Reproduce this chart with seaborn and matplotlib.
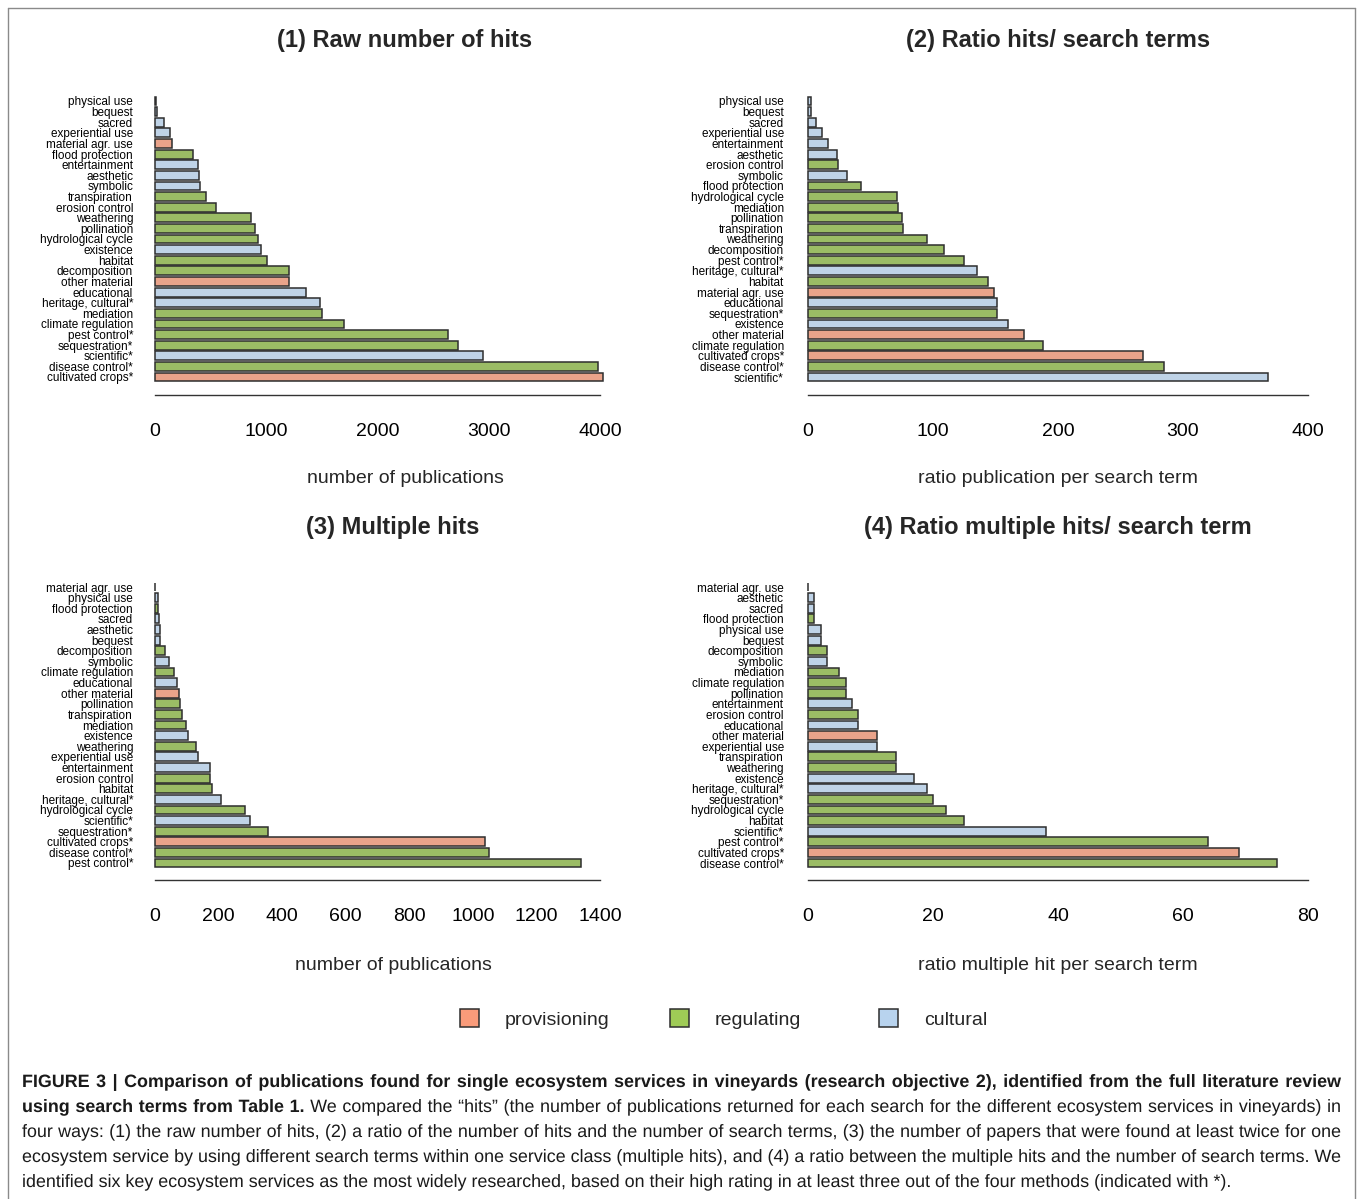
import matplotlib
matplotlib.use("Agg")
import matplotlib.pyplot as plt
import matplotlib.font_manager as fm
from matplotlib.font_manager import FontProperties
from matplotlib.patches import Patch, PathPatch
from matplotlib.lines import Line2D
from matplotlib.path import Path
from matplotlib.textpath import TextPath, text_to_path
from matplotlib.transforms import IdentityTransform
import seaborn as sns
import pandas as pd

# --- data ---
p1_names = ["physical use", "bequest", "sacred", "experiential use", "material agr. use",
            "flood protection", "entertainment", "aesthetic", "symbolic", "transpiration",
            "erosion control", "weathering", "pollination", "hydrological cycle", "existence",
            "habitat", "decomposition", "other material", "educational", "heritage, cultural*",
            "mediation", "climate regulation", "pest control*", "sequestration*", "scientific*",
            "disease control*", "cultivated crops*"]
p1_vals = [10, 15, 78, 131, 149, 338, 391, 394, 405, 455, 544, 860, 899, 924, 956, 1006,
           1205, 1208, 1357, 1485, 1503, 1695, 2632, 2720, 2947, 3985, 4023]

p2_names = ["physical use", "bequest", "sacred", "experiential use", "entertainment", "aesthetic",
            "erosion control", "symbolic", "flood protection", "hydrological cycle", "mediation",
            "pollination", "transpiration", "weathering", "decomposition", "pest control*",
            "heritage, cultural*", "habitat", "material agr. use", "educational", "sequestration*",
            "existence", "other material", "climate regulation", "cultivated crops*",
            "disease control*", "scientific*"]
p2_vals = [2, 2, 6, 11, 16, 23, 24, 31, 42, 71, 72, 75, 76, 95, 109, 125, 135, 144, 149, 151,
           151, 160, 173, 188, 268, 285, 368]

p3_names = ["material agr. use", "physical use", "flood protection", "sacred", "aesthetic",
            "bequest", "decomposition", "symbolic", "climate regulation", "educational",
            "other material", "pollination", "transpiration", "mediation", "existence",
            "weathering", "experiential use", "entertainment", "erosion control", "habitat",
            "heritage, cultural*", "hydrological cycle", "scientific*", "sequestration*",
            "cultivated crops*", "disease control*", "pest control*"]
p3_vals = [1, 9, 10, 12, 15, 16, 32, 44, 60, 69, 77, 79, 85, 96, 105, 130, 135, 173, 173, 178,
           207, 282, 300, 354, 1037, 1050, 1340]

p4_names = ["material agr. use", "aesthetic", "sacred", "flood protection", "physical use",
            "bequest", "decomposition", "symbolic", "mediation", "climate regulation",
            "pollination", "entertainment", "erosion control", "educational", "other material",
            "experiential use", "transpiration", "weathering", "existence", "heritage, cultural*",
            "sequestration*", "hydrological cycle", "habitat", "scientific*", "pest control*",
            "cultivated crops*", "disease control*"]
p4_vals = [0, 1, 1, 1, 2, 2, 3, 3, 5, 6, 6, 7, 8, 8, 11, 11, 14, 14, 17, 19, 20, 22, 25, 38,
           64, 69, 75]

provisioning = ["cultivated crops", "material agr. use", "other material"]
cultural = ["physical use", "bequest", "sacred", "experiential use", "entertainment",
            "aesthetic", "symbolic", "existence", "educational", "heritage, cultural", "scientific"]

groups = ["provisioning", "regulating", "cultural"]
colors = {"provisioning": "#F99B7A", "regulating": "#9FCB56", "cultural": "#B8D3EE"}
edge = "#2e2e2e"

titles = ["(1) Raw number of hits", "(2) Ratio hits/ search terms",
          "(3) Multiple hits", "(4) Ratio multiple hits/ search term"]
xlabels = ["number of publications", "ratio publication per search term",
           "number of publications", "ratio multiple hit per search term"]
ticks = [[0, 1000, 2000, 3000, 4000], [0, 100, 200, 300, 400],
         [0, 200, 400, 600, 800, 1000, 1200, 1400], [0, 20, 40, 60, 80]]


def group_of(name):
    base = name.rstrip("*")
    if base in provisioning:
        return "provisioning"
    if base in cultural:
        return "cultural"
    return "regulating"


sns.set_style("white")
plt.rcParams["font.family"] = ["Liberation Sans", "DejaVu Sans"]

W, H = 1358, 1199
fig = plt.figure(figsize=(W / 100, H / 100), dpi=100)

# pixel layout: zero x, last tick x, first bar y, last bar y, axis line y
layout = [(155, 600, 101, 377, 395), (808, 1308, 101, 377, 395),
          (155, 600, 587, 863, 880), (808, 1308, 587, 863, 880)]
title_pos = [(405, 41), (1058, 41), (393, 527), (1058, 527)]
xlabel_pos = [(405, 479), (1058, 479), (393, 965), (1058, 965)]

panels = [(p1_names, p1_vals), (p2_names, p2_vals), (p3_names, p3_vals), (p4_names, p4_vals)]

for i, (names, vals) in enumerate(panels):
    x0, x1, ytop, ybot, yax = layout[i]
    tmax = ticks[i][-1]
    s = (x1 - x0) / tmax
    n = len(names)
    pitch = (ybot - ytop) / (n - 1)
    ext_top = 1.5
    ext_bot = (yax - ybot) / pitch
    xmin, xmax = -0.04 * tmax, 1.08 * tmax
    left = x0 + xmin * s
    width = (xmax - xmin) * s
    top = ytop - ext_top * pitch
    height = yax - top
    ax = fig.add_axes([left / W, 1 - (top + height) / H, width / W, height / H])

    df = pd.DataFrame({"service": names, "value": vals,
                       "group": [group_of(nm) for nm in names]})
    sns.barplot(data=df, x="value", y="service", hue="group", order=names,
                hue_order=groups, palette=colors, dodge=False, width=1 / 1.2,
                edgecolor=edge, linewidth=1.1, legend=False, orient="h", ax=ax)

    ax.set_xlim(xmin, xmax)
    ax.set_ylim(n - 1 + ext_bot, -ext_top)
    ax.set_xlabel("")
    ax.set_ylabel("")
    for sp in ["left", "top", "right"]:
        ax.spines[sp].set_visible(False)
    ax.spines["bottom"].set_bounds(0, tmax)
    ax.spines["bottom"].set_color("#333333")
    ax.spines["bottom"].set_linewidth(1.0)
    ax.set_xticks(ticks[i])
    ax.set_xticklabels([str(t) for t in ticks[i]], fontsize=14)
    ax.tick_params(axis="x", length=7.5, width=1.0, color="#333333", pad=12.5, labelcolor="black")
    ax.tick_params(axis="y", length=0, pad=3, labelsize=8.5, labelcolor="black")
    ax.patch.set_alpha(0)

    fig.text(title_pos[i][0] / W, 1 - title_pos[i][1] / H, titles[i], ha="center",
             va="center", fontsize=17, fontweight="bold")
    fig.text(xlabel_pos[i][0] / W, 1 - xlabel_pos[i][1] / H, xlabels[i], ha="center",
             va="center", fontsize=14)

# legend: one entry per slot so the columns are evenly spaced
legend_x = [460, 670, 879]
for g, lx in zip(groups, legend_x):
    h = Patch(facecolor=colors[g], edgecolor=edge, linewidth=1.1)
    fig.legend([h], [g], loc="center left", bbox_to_anchor=(lx / W, 1 - 1019 / H),
               frameon=False, fontsize=14, handlelength=1.0, handleheight=1.0,
               handletextpad=1.3, borderpad=0, borderaxespad=0)

# frame around the figure
frame_kw = dict(color="#8a8a8a", linewidth=1.0, transform=fig.transFigure)
fig.add_artist(Line2D([8 / W, 8 / W], [0, 1 - 8 / H], **frame_kw))
fig.add_artist(Line2D([8 / W, 1355 / W], [1 - 8 / H, 1 - 8 / H], **frame_kw))
fig.add_artist(Line2D([1355 / W, 1355 / W], [0, 1 - 8 / H], **frame_kw))

# caption, justified word by word (drawn as text paths in pixel units)
cap_lines = [
    [("FIGURE 3 | Comparison of publications found for single ecosystem services in vineyards "
      "(research objective 2), identified from the full literature review", "bold")],
    [("using search terms from Table 1.", "bold"),
     ("We compared the \u201chits\u201d (the number of publications returned for each search for "
      "the different ecosystem services in vineyards) in", "normal")],
    [("four ways: (1) the raw number of hits, (2) a ratio of the number of hits and the number "
      "of search terms, (3) the number of papers that were found at least twice for one", "normal")],
    [("ecosystem service by using different search terms within one service class (multiple "
      "hits), and (4) a ratio between the multiple hits and the number of search terms. We", "normal")],
    [("identified six key ecosystem services as the most widely researched, based on their high "
      "rating in at least three out of the four methods (indicated with *).", "normal")],
]
cap_y = [1081, 1106, 1131, 1156, 1181]
cap_x0, cap_x1 = 22, 1341

installed = {f.name for f in fm.fontManager.ttflist}
cap_family = "Liberation Sans Narrow" if "Liberation Sans Narrow" in installed else "Liberation Sans"


def adv(txt, size, weight):
    prop = FontProperties(family=cap_family, weight=weight, size=size)
    return text_to_path.get_text_width_height_descent(txt, prop, ismath=False)[0]


def natural_width(pieces, size):
    words = [(w, wt) for txt, wt in pieces for w in txt.split()]
    sp = adv(" ", size, "normal")
    return sum(adv(w, size, wt) for w, wt in words) + sp * (len(words) - 1)


# largest size (px) at which every justified line still fits
cap_px = min(10 * (cap_x1 - cap_x0) / natural_width(p, 10) for p in cap_lines[:-1])
space_w = adv(" ", cap_px, "normal")

for k, pieces in enumerate(cap_lines):
    words = [(w, wt) for txt, wt in pieces for w in txt.split()]
    widths = [adv(w, cap_px, wt) for w, wt in words]
    if k < len(cap_lines) - 1:
        gap = (cap_x1 - cap_x0 - sum(widths)) / (len(words) - 1)
    else:
        gap = space_w
    x = cap_x0
    ybase = H - (cap_y[k] + 6)
    paths = []
    for (w, wt), wd in zip(words, widths):
        prop = FontProperties(family=cap_family, weight=wt)
        paths.append(TextPath((x, ybase), w, size=cap_px, prop=prop))
        x += wd + gap
    line_path = Path.make_compound_path(*paths)
    fig.add_artist(PathPatch(line_path, transform=IdentityTransform(),
                             facecolor="#1a1a1a", edgecolor="none"))

fig.savefig("out.png", dpi=100)
